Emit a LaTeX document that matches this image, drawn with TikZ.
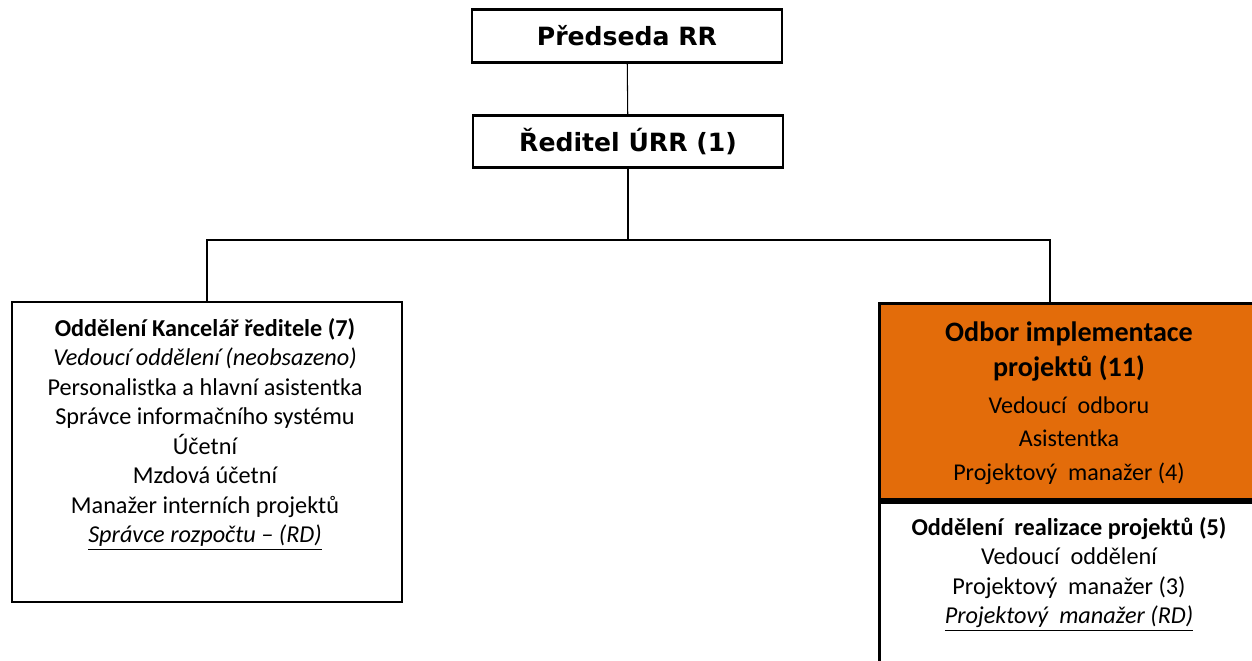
\documentclass[tikz,border=0pt]{standalone}
\usepackage{fontspec}
\setmainfont{Carlito}
\newfontfamily\headfont{DejaVu Sans}
\usetikzlibrary{positioning}
\definecolor{oranz}{RGB}{227,108,10}

\begin{document}
\begin{tikzpicture}[x=0.02cm,y=-0.02cm,
  box/.style={draw, line width=1.6pt, minimum width=6.2cm, minimum height=1.05cm, font=\headfont\bfseries\fontsize{14.3}{16}\selectfont},
  dept/.style={draw, line width=1.6pt},
  txt/.style={align=center, inner sep=0pt, font=\fontsize{13.8}{16.8}\selectfont},
  link/.style={line width=.6pt}]
\useasboundingbox (0,0) rectangle (1252,661);

% top of the chart
\node[box] (pred) at (627,36) {Předseda RR};
\node[box] (red) at (628,141.5) {Ředitel ÚRR (1)};

% left department
\node[dept, minimum width=7.8cm, minimum height=6cm] (kanc) at (207,452) {};
\node[txt, anchor=north] (kanctext) at (205,318) {\textbf{Oddělení Kancelář ředitele (7)}\\
  \textit{Vedoucí oddělení (neobsazeno)}\\
  Personalistka a hlavní asistentka\\
  Správce informačního systému\\
  Účetní\\
  Mzdová účetní\\
  Manažer interních projektů\\
  \underline{\textit{Správce rozpočtu – (RD)}}};

% right department
\node[dept, fill=oranz, anchor=north west, minimum width=8cm, minimum height=3.92cm] (odbor) at (878,302) {};
\node[dept, anchor=north west, minimum width=8cm, minimum height=4cm] (realiz) at (odbor.south west) {};
\node[txt, anchor=north, font=\bfseries\fontsize{16}{20.4}\selectfont] (odborhead) at (1069,321) {Odbor implementace\\ projektů (11)};
\node[txt, anchor=north, font=\fontsize{13.7}{19.3}\selectfont] (odbortext) at (1069,396) {Vedoucí~ odboru\\
  Asistentka\\
  Projektový~ manažer (4)};
\node[txt, anchor=north] (realiztext) at (1069,517) {\textbf{Oddělení~ realizace projektů (5)}\\
  Vedoucí~ oddělení\\
  Projektový~ manažer (3)\\
  \underline{\textit{Projektový~ manažer (RD)}}};

% connectors
\coordinate (bar) at (628,240);
\coordinate (odborin) at (1050,302);
\draw[link] (pred) -- (red);
\draw[link] (red) -- (bar);
\draw[link] (kanc.north) |- (bar) -| (odborin);
\end{tikzpicture}
\end{document}
